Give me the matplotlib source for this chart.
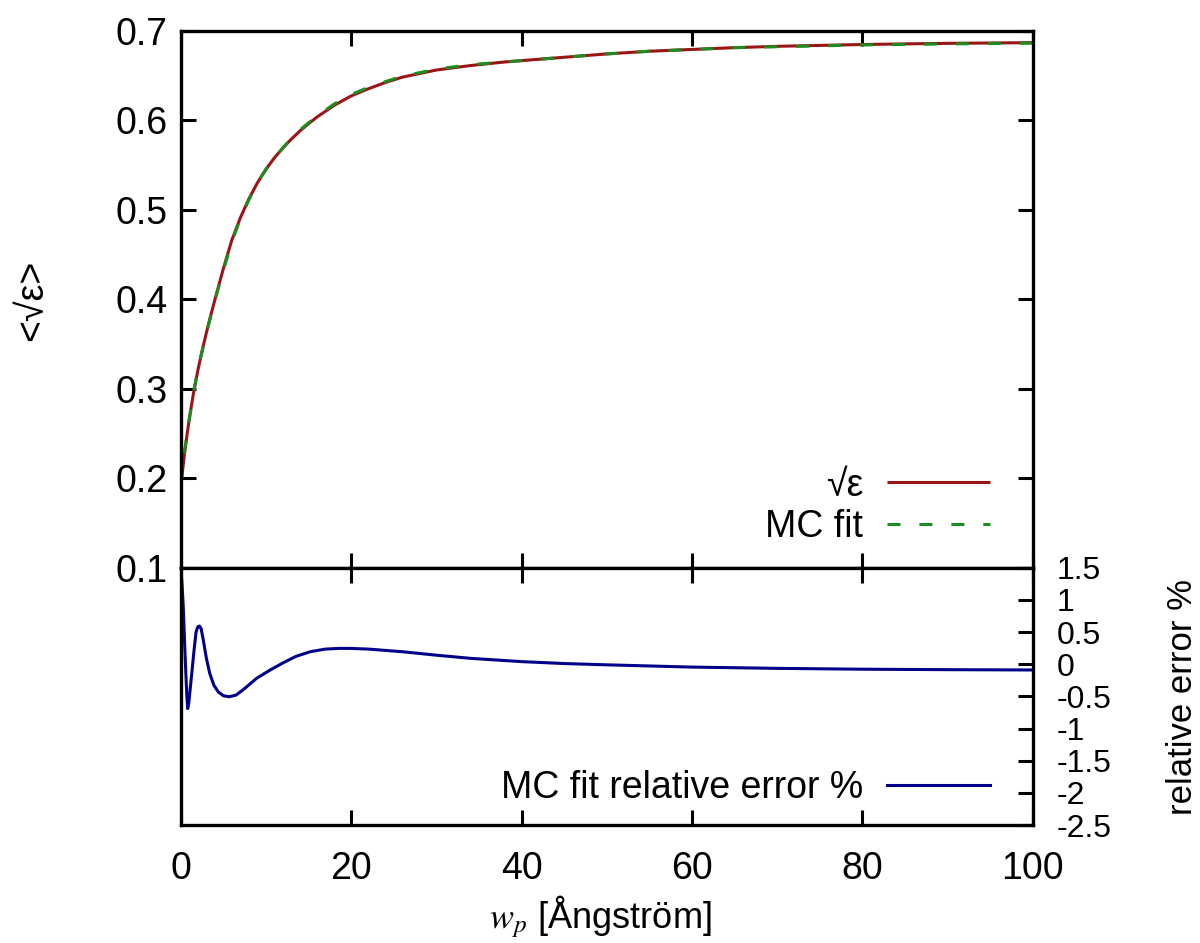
import matplotlib
matplotlib.use('Agg')
import matplotlib.pyplot as plt

plt.rcParams['font.family'] = ['Liberation Sans', 'DejaVu Sans']
plt.rcParams['mathtext.fontset'] = 'stix'

# ---- data ----
x_top = [0, 0.5, 1, 1.5, 2, 2.5, 3, 3.5, 4, 5, 6, 7, 8, 9, 10, 11, 12, 13, 14, 15,
         16, 18, 20, 22, 24, 26, 28, 30, 34, 38, 42, 46, 50, 55, 60, 65, 70, 75,
         80, 85, 90, 95, 100]
sqrt_eps = [0.19, 0.232, 0.266, 0.295, 0.32, 0.342, 0.362, 0.381, 0.399, 0.434,
            0.466, 0.491, 0.512, 0.530, 0.545, 0.558, 0.569, 0.579, 0.588, 0.596,
            0.6035, 0.6165, 0.627, 0.635, 0.642, 0.648, 0.652, 0.656, 0.661,
            0.665, 0.668, 0.671, 0.674, 0.677, 0.679, 0.681, 0.6825, 0.6835,
            0.6845, 0.6852, 0.6858, 0.6862, 0.6866]
mc_fit = [0.192, 0.233, 0.265, 0.296, 0.321, 0.341, 0.362, 0.380, 0.398, 0.432,
          0.464, 0.490, 0.511, 0.530, 0.545, 0.558, 0.569, 0.580, 0.589, 0.597,
          0.6045, 0.618, 0.6285, 0.6365, 0.643, 0.649, 0.653, 0.657, 0.662,
          0.665, 0.668, 0.671, 0.674, 0.677, 0.679, 0.681, 0.682, 0.683,
          0.684, 0.6846, 0.6852, 0.6856, 0.686]

x_err = [0.05, 0.15, 0.3, 0.45, 0.6, 0.72, 0.82, 0.95, 1.1, 1.3, 1.55, 1.8, 2.0,
         2.2, 2.4, 2.65, 3.0, 3.4, 3.9, 4.4, 5.0, 5.7, 6.5, 7.3, 8.1, 8.9, 10.5,
         12, 13.5, 15.2, 17, 18.7, 20, 22, 26, 30, 34, 40, 45, 50, 60, 70, 80, 90,
         100]
rel_err = [1.42, 1.25, 0.89, 0.35, -0.14, -0.5, -0.69, -0.6, -0.4, -0.14, 0.2,
           0.5, 0.58, 0.593, 0.55, 0.375, 0.1, -0.14, -0.33, -0.43, -0.49,
           -0.506, -0.48, -0.40, -0.31, -0.22, -0.09, 0.02, 0.12, 0.194, 0.235,
           0.246, 0.245, 0.235, 0.194, 0.14, 0.091, 0.04, 0.01, -0.01, -0.045,
           -0.065, -0.078, -0.085, -0.09]

x_ticks = [0, 20, 40, 60, 80, 100]
x_ticklabels = ['0', '20', '40', '60', '80', '100']
top_yticks = [0.1, 0.2, 0.3, 0.4, 0.5, 0.6, 0.7]
top_yticklabels = ['0.1', '0.2', '0.3', '0.4', '0.5', '0.6', '0.7']
err_yticks = [-2.5, -2, -1.5, -1, -0.5, 0, 0.5, 1, 1.5]
err_yticklabels = ['-2.5', '-2', '-1.5', '-1', '-0.5', '0', '0.5', '1', '1.5']

RED = '#9a1515'
GREEN = '#1f8c1f'
BLUE = '#00008b'
FS = 27

fig = plt.figure(figsize=(12, 9.43), dpi=100)
ax1 = fig.add_axes([0.1506, 0.398, 0.71, 0.5695])
ax2 = fig.add_axes([0.1506, 0.1251, 0.71, 0.2729])

for ax in (ax1, ax2):
    for s in ax.spines.values():
        s.set_linewidth(2.4)
    ax.tick_params(direction='in', length=10.8, width=2.2, labelsize=FS)
    ax.set_xlim(0, 100)
    ax.set_xticks(x_ticks)

# top panel
ax1.plot(x_top, sqrt_eps, color=RED, lw=2.2, label='√ε', solid_capstyle='butt')
l2, = ax1.plot(x_top, mc_fit, color=GREEN, lw=2.2, label='MC fit')
l2.set_dashes((4.25, 6.2))
ax1.set_ylim(0.1, 0.7)
ax1.set_yticks(top_yticks)
ax1.set_yticklabels(top_yticklabels)
ax1.tick_params(top=True, right=True, labelbottom=False, pad=9.5)
leg1 = ax1.legend(loc='lower right', bbox_to_anchor=(0.95, 0.042), frameon=False,
                  markerfirst=False, fontsize=FS, handlelength=2.75,
                  handletextpad=0.64, labelspacing=0.15, borderpad=0,
                  borderaxespad=0)

# bottom panel
ax2.plot(x_err, rel_err, color=BLUE, lw=2.2, label='MC fit relative error %')
ax2.set_ylim(-2.5, 1.5)
ax2.set_yticks(err_yticks)
ax2.set_yticklabels(err_yticklabels)
ax2.tick_params(axis='y', left=False, right=True, labelleft=False,
                labelright=True, pad=17, labelsize=23)
ax2.tick_params(axis='x', top=True, bottom=True, pad=19)
ax2.set_xticklabels(x_ticklabels)
ax2.legend(loc='lower right', bbox_to_anchor=(0.95, 0.075), frameon=False,
           markerfirst=False, fontsize=FS, handlelength=2.75,
           handletextpad=0.64, borderpad=0, borderaxespad=0)

fig.text(32 / 1200, 1 - 300 / 943, '<√ε>', rotation=90, ha='center',
         va='center', fontsize=FS)
fig.text(1182 / 1200, 1 - 697 / 943, 'relative error %', rotation=90,
         ha='center', va='center', fontsize=25)
fig.text(600 / 1200, 1 - 917 / 943, r'$w_p$ [Ångström]', ha='center',
         va='center', fontsize=26)

fig.savefig('out.png', dpi=100)
